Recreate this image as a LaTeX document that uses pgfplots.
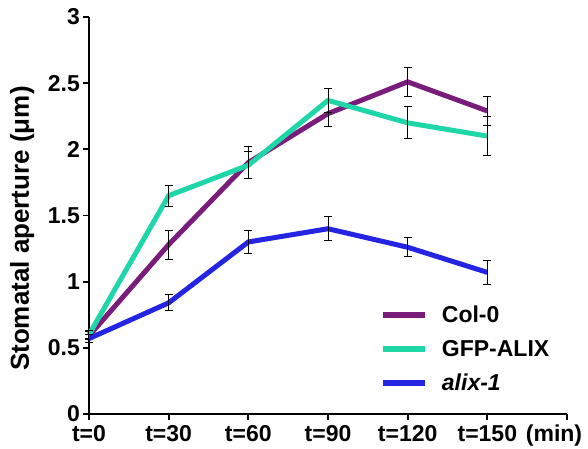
\documentclass[border=0pt]{standalone}
\usepackage{pgfplots}
\pgfplotsset{compat=1.18}
\usepackage{fontspec}
\setmainfont{Liberation Sans}
\definecolor{colzero}{HTML}{7A1C7B}
\definecolor{gfpalix}{HTML}{1FD6A9}
\definecolor{alixone}{HTML}{2424E3}

\begin{document}
\begin{tikzpicture}
\begin{axis}[
  scale only axis, width=478pt, height=397pt,
  axis lines*=left,
  axis line style={line width=1.8pt},
  xmin=0, xmax=180, ymin=0, ymax=3,
  xtick={0,30,...,180},
  xticklabels={t=0,t=30,t=60,t=90,t=120,t=150,\hspace*{-26pt}(min)},
  ytick={0,0.5,1,1.5,2,2.5,3},
  yticklabels={0,0.5,1,1.5,2,2.5,3},
  xtick pos=left, ytick pos=left,
  tick align=outside, major tick length=6pt,
  tick style={line width=1.8pt, black},
  ticklabel style={font=\fontsize{23}{26}\selectfont\bfseries},
  xticklabel style={inner sep=0pt, yshift=-5pt},
  yticklabel style={inner sep=3pt},
  ylabel={Stomatal aperture (μm)},
  ylabel style={font=\fontsize{26}{29}\selectfont\bfseries,
    at={(axis description cs:-0.14,0.467)}, anchor=center},
  clip=false,
  legend style={at={(rel axis cs:0.603,0.282)}, anchor=north west, draw=none,
    fill=none, font=\fontsize{23}{26}\selectfont\bfseries, row sep=12pt,
    legend cell align=left},
  legend image code/.code={\draw[#1, line width=6pt] (0pt,0pt) -- (42pt,0pt);
    \path (54pt,0pt);},
  every axis plot/.append style={line width=5pt},
  error bars/error bar style={black, line width=1pt},
  error bars/error mark options={rotate=90, mark size=4pt, black, line width=1pt},
]
\path (rel axis cs:0,0) ++(-89pt,-35pt) coordinate (bl);
\path (rel axis cs:1,1) ++(21pt,17pt) coordinate (tr);
\path (bl) rectangle (tr);
\addplot[colzero, error bars/.cd, y dir=both, y explicit] table[y error=e] {
x y e
0 0.59 0.03
30 1.28 0.11
60 1.90 0.12
90 2.27 0.10
120 2.51 0.11
150 2.29 0.11
};
\addlegendentry{Col-0}
\addplot[gfpalix, error bars/.cd, y dir=both, y explicit] table[y error=e] {
x y e
0 0.60 0.03
30 1.65 0.08
60 1.88 0.10
90 2.37 0.09
120 2.20 0.12
150 2.10 0.15
};
\addlegendentry{GFP-ALIX}
\addplot[alixone, error bars/.cd, y dir=both, y explicit] table[y error=e] {
x y e
0 0.57 0.03
30 0.84 0.06
60 1.30 0.09
90 1.40 0.09
120 1.26 0.07
150 1.07 0.09
};
\addlegendentry{\textit{alix-1}}
\end{axis}
\end{tikzpicture}
\end{document}
